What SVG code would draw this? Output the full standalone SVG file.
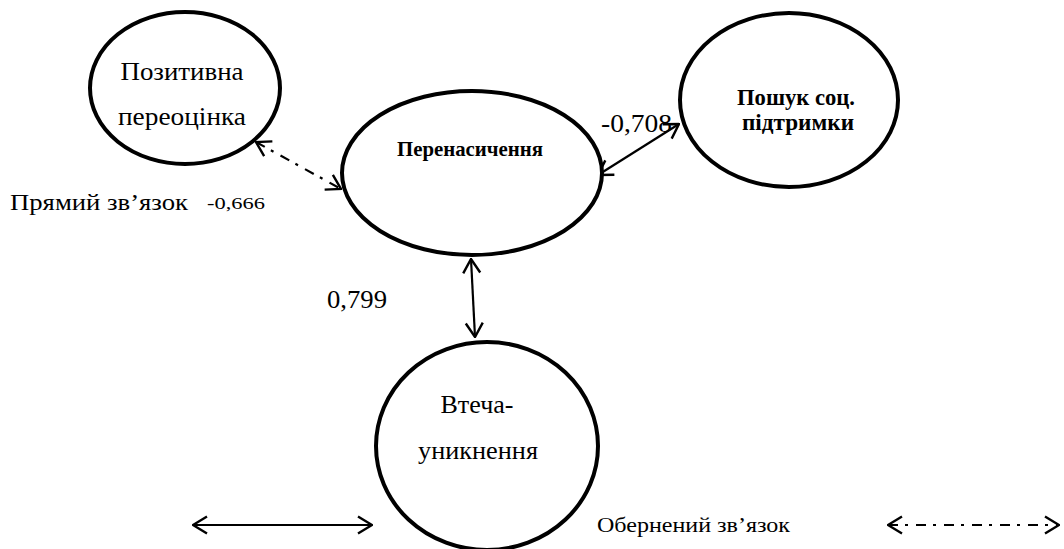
<svg xmlns="http://www.w3.org/2000/svg" width="1064" height="549" viewBox="0 0 1064 549">
<style>
.node{fill:#fff;stroke:#000;stroke-width:4}
.t{font-family:"Liberation Serif","Times New Roman",serif;fill:#000}
.b{font-weight:bold}
.c{stroke:#000;stroke-width:2.2;fill:none}
.dd{stroke-dasharray:10 7 3 8}
</style>
<defs>
<marker id="ah" viewBox="0 0 16 20" refX="15" refY="10" markerWidth="16" markerHeight="20" markerUnits="userSpaceOnUse" orient="auto-start-reverse">
<path d="M1,1.5 L15,10 L1,18.5" fill="none" stroke="#000" stroke-width="2.4"/>
</marker>
</defs>
<g id="connectors">
<line class="c dd" x1="256" y1="142" x2="341" y2="189" marker-start="url(#ah)" marker-end="url(#ah)"/>
<line class="c" x1="598" y1="175" x2="679" y2="124" marker-start="url(#ah)" marker-end="url(#ah)"/>
<line class="c" x1="471" y1="259" x2="475" y2="337" marker-start="url(#ah)" marker-end="url(#ah)"/>
</g>
<g id="node-pozytyvna">
<ellipse class="node" cx="185" cy="88" rx="95" ry="76"/>
<text class="t" x="182" y="80" font-size="26" text-anchor="middle" textLength="123" lengthAdjust="spacingAndGlyphs">Позитивна</text>
<text class="t" x="182" y="125" font-size="26" text-anchor="middle" textLength="128" lengthAdjust="spacingAndGlyphs">переоцінка</text>
</g>
<g id="node-perenasychennia">
<ellipse class="node" cx="472" cy="173" rx="130" ry="82"/>
<text class="t b" x="470" y="156" font-size="21" text-anchor="middle" textLength="146" lengthAdjust="spacingAndGlyphs">Перенасичення</text>
</g>
<g id="node-poshuk">
<ellipse class="node" cx="789" cy="100" rx="109" ry="87"/>
<text class="t b" x="796" y="105" font-size="23" text-anchor="middle" textLength="118" lengthAdjust="spacingAndGlyphs">Пошук соц.</text>
<text class="t b" x="798" y="130" font-size="23" text-anchor="middle" textLength="112" lengthAdjust="spacingAndGlyphs">підтримки</text>
</g>
<g id="node-vtecha">
<ellipse class="node" cx="487" cy="446" rx="111" ry="104"/>
<text class="t" x="477" y="413" font-size="26" text-anchor="middle" textLength="73" lengthAdjust="spacingAndGlyphs">Втеча-</text>
<text class="t" x="478" y="459" font-size="26" text-anchor="middle" textLength="120" lengthAdjust="spacingAndGlyphs">уникнення</text>
</g>
<g id="labels">
<text class="t" x="10" y="210" font-size="24" textLength="178" lengthAdjust="spacingAndGlyphs">Прямий зв’язок</text>
<text class="t" x="207" y="209" font-size="17" textLength="58" lengthAdjust="spacingAndGlyphs">-0,666</text>
<text class="t" x="601" y="132" font-size="26" textLength="71" lengthAdjust="spacingAndGlyphs">-0,708</text>
<text class="t" x="327" y="308" font-size="26" textLength="60" lengthAdjust="spacingAndGlyphs">0,799</text>
<text class="t" x="597" y="532" font-size="22" textLength="193" lengthAdjust="spacingAndGlyphs">Обернений зв’язок</text>
</g>
<g id="legend">
<line class="c" x1="193" y1="525" x2="372" y2="525" marker-start="url(#ah)" marker-end="url(#ah)"/>
<line class="c dd" x1="888" y1="525" x2="1059" y2="525" marker-start="url(#ah)" marker-end="url(#ah)"/>
</g>
</svg>
